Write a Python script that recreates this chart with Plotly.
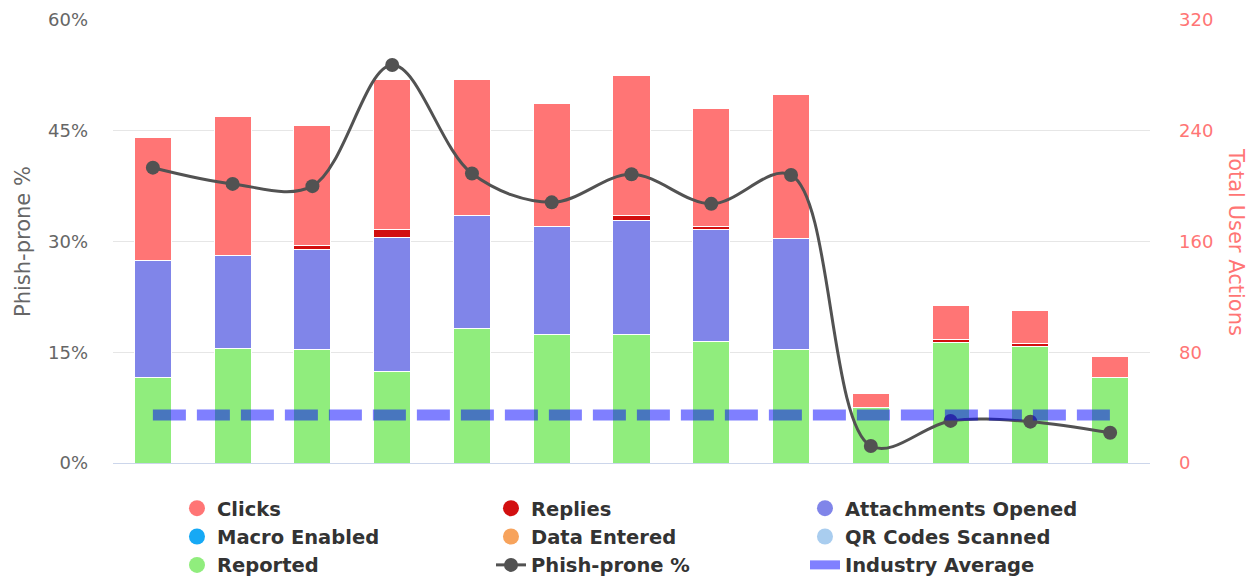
import plotly.graph_objects as go

# ---- data ----
categories = ["T1", "T2", "T3", "T4", "T5", "T6", "T7", "T8", "T9", "T10", "T11", "T12", "T13"]
reported = [62, 83, 82, 66, 97, 93, 93, 88, 82, 40, 87, 84, 62]
qr_codes = [0, 0, 0, 0, 0, 0, 0, 0, 0, 0, 0, 0, 0]
data_entered = [0, 0, 0, 0, 0, 0, 0, 0, 0, 0, 0, 0, 0]
macro_enabled = [0, 0, 0, 0, 0, 0, 0, 0, 0, 0, 0, 0, 0]
attachments = [84, 67, 72, 97, 82, 78, 82, 81, 80, 0, 0, 0, 0]
replies = [0, 0, 3, 6, 0, 0, 4, 2, 0, 0, 2, 2, 0]
clicks = [89, 100, 87, 108, 98, 89, 101, 85, 104, 10, 25, 24, 15]
phish_prone = [40.0, 37.8, 37.5, 53.9, 39.2, 35.3, 39.1, 35.1, 39.0, 2.3, 5.7, 5.6, 4.1]
industry_avg = [6.5, 6.5, 6.5, 6.5, 6.5, 6.5, 6.5, 6.5, 6.5, 6.5, 6.5, 6.5, 6.5]

pct_ticks = [0, 15, 30, 45, 60]
pct_labels = ["0%", "15%", "30%", "45%", "60%"]
act_ticks = [0, 80, 160, 240, 320]
act_labels = ["0", "80", "160", "240", "320"]

# ---- styles ----
C_CLICKS = "#ff7575"
C_REPLIES = "#d20f10"
C_ATTACH = "#8085e9"
C_MACRO = "#16a9f5"
C_DATA = "#f7a35c"
C_QR = "#a9cdef"
C_REPORTED = "#90ed7d"
C_PHISH = "#525252"
C_IND = "rgba(0,0,255,0.5)"
FONT = "DejaVu Sans"

fig = go.Figure()

stack = [
    ("Reported", reported, C_REPORTED),
    ("QR Codes Scanned", qr_codes, C_QR),
    ("Data Entered", data_entered, C_DATA),
    ("Macro Enabled", macro_enabled, C_MACRO),
    ("Attachments Opened", attachments, C_ATTACH),
    ("Replies", replies, C_REPLIES),
    ("Clicks", clicks, C_CLICKS),
]
for name, vals, col in stack:
    fig.add_trace(go.Bar(
        x=categories, y=vals, name=name, yaxis="y",
        marker=dict(color=col, line=dict(color="white", width=1 if any(vals) else 0)),
        showlegend=False,
    ))

fig.add_trace(go.Scatter(
    x=categories, y=phish_prone, name="Phish-prone %", yaxis="y2",
    mode="lines+markers", line=dict(color=C_PHISH, width=3, shape="spline", smoothing=1.0),
    marker=dict(color=C_PHISH, size=14), showlegend=False,
))
fig.add_trace(go.Scatter(
    x=categories, y=industry_avg, name="Industry Average", yaxis="y2",
    mode="lines", line=dict(color=C_IND, width=11, dash="33px,11px"),
    showlegend=False,
))

# legend entries (row-major, three columns)
legend_items = [
    ("Clicks", C_CLICKS, "dot"),
    ("Replies", C_REPLIES, "dot"),
    ("Attachments Opened", C_ATTACH, "dot"),
    ("Macro Enabled", C_MACRO, "dot"),
    ("Data Entered", C_DATA, "dot"),
    ("QR Codes Scanned", C_QR, "dot"),
    ("Reported", C_REPORTED, "dot"),
    ("Phish-prone %", C_PHISH, "linemarker"),
    ("Industry Average", "#8080ff", "band"),
]
for i, (name, col, kind) in enumerate(legend_items):
    if kind == "dot":
        tr = go.Scatter(x=[None], y=[None], mode="markers", name=name,
                        marker=dict(color=col, size=20, symbol="circle"))
    elif kind == "linemarker":
        tr = go.Scatter(x=[None], y=[None], mode="lines+markers", name=name,
                        line=dict(color=col, width=3), marker=dict(color=col, size=14))
    else:
        tr = go.Scatter(x=[None], y=[None], mode="lines", name=name,
                        line=dict(color=col, width=9))
    tr.update(legendrank=i + 1, yaxis="y2")
    fig.add_trace(tr)

# page body adds an 8px offset; figure is sized/positioned to compensate
fig.update_layout(
    width=1246, height=575,
    margin=dict(l=105, r=104, t=12, b=120, autoexpand=False),
    paper_bgcolor="white", plot_bgcolor="white",
    barmode="stack", bargap=0.535,
    font=dict(family=FONT, color="#666666"),
    xaxis=dict(showticklabels=False, showgrid=False, showline=True, linecolor="#ccd6eb",
               linewidth=1, ticks="", zeroline=False, range=[-0.5, 12.5],
               fixedrange=True),
    yaxis=dict(side="right", range=[0, 320], tickvals=act_ticks, ticktext=act_labels,
               showgrid=True, gridcolor="#e6e6e6", gridwidth=1, zeroline=False,
               tickfont=dict(size=18, color=C_CLICKS, family=FONT), ticks="",
               ticklabelstandoff=28),
    yaxis2=dict(side="left", overlaying="y", range=[0, 60], tickvals=pct_ticks,
                ticktext=pct_labels, showgrid=False, zeroline=False,
                tickfont=dict(size=18, color="#666666", family=FONT), ticks="",
                ticklabelstandoff=24),
    legend=dict(orientation="h", x=0.0617, xanchor="left", y=-0.0587, yanchor="top",
                traceorder="normal",
                entrywidth=269, entrywidthmode="pixels",
                font=dict(size=19.5, color="#333333", family=FONT, weight="bold"),
                bgcolor="rgba(0,0,0,0)", itemclick=False, itemdoubleclick=False),
    annotations=[
        dict(text="Phish-prone %", xref="paper", yref="paper", x=-0.0873, y=0.5,
             textangle=-90, showarrow=False, xanchor="center", yanchor="middle",
             font=dict(size=21, color="#666666", family=FONT)),
        dict(text="Total User Actions", xref="paper", yref="paper", x=1.0835, y=0.5,
             textangle=90, showarrow=False, xanchor="center", yanchor="middle",
             font=dict(size=21, color=C_CLICKS, family=FONT)),
    ],
)

fig.write_html("out.html")
